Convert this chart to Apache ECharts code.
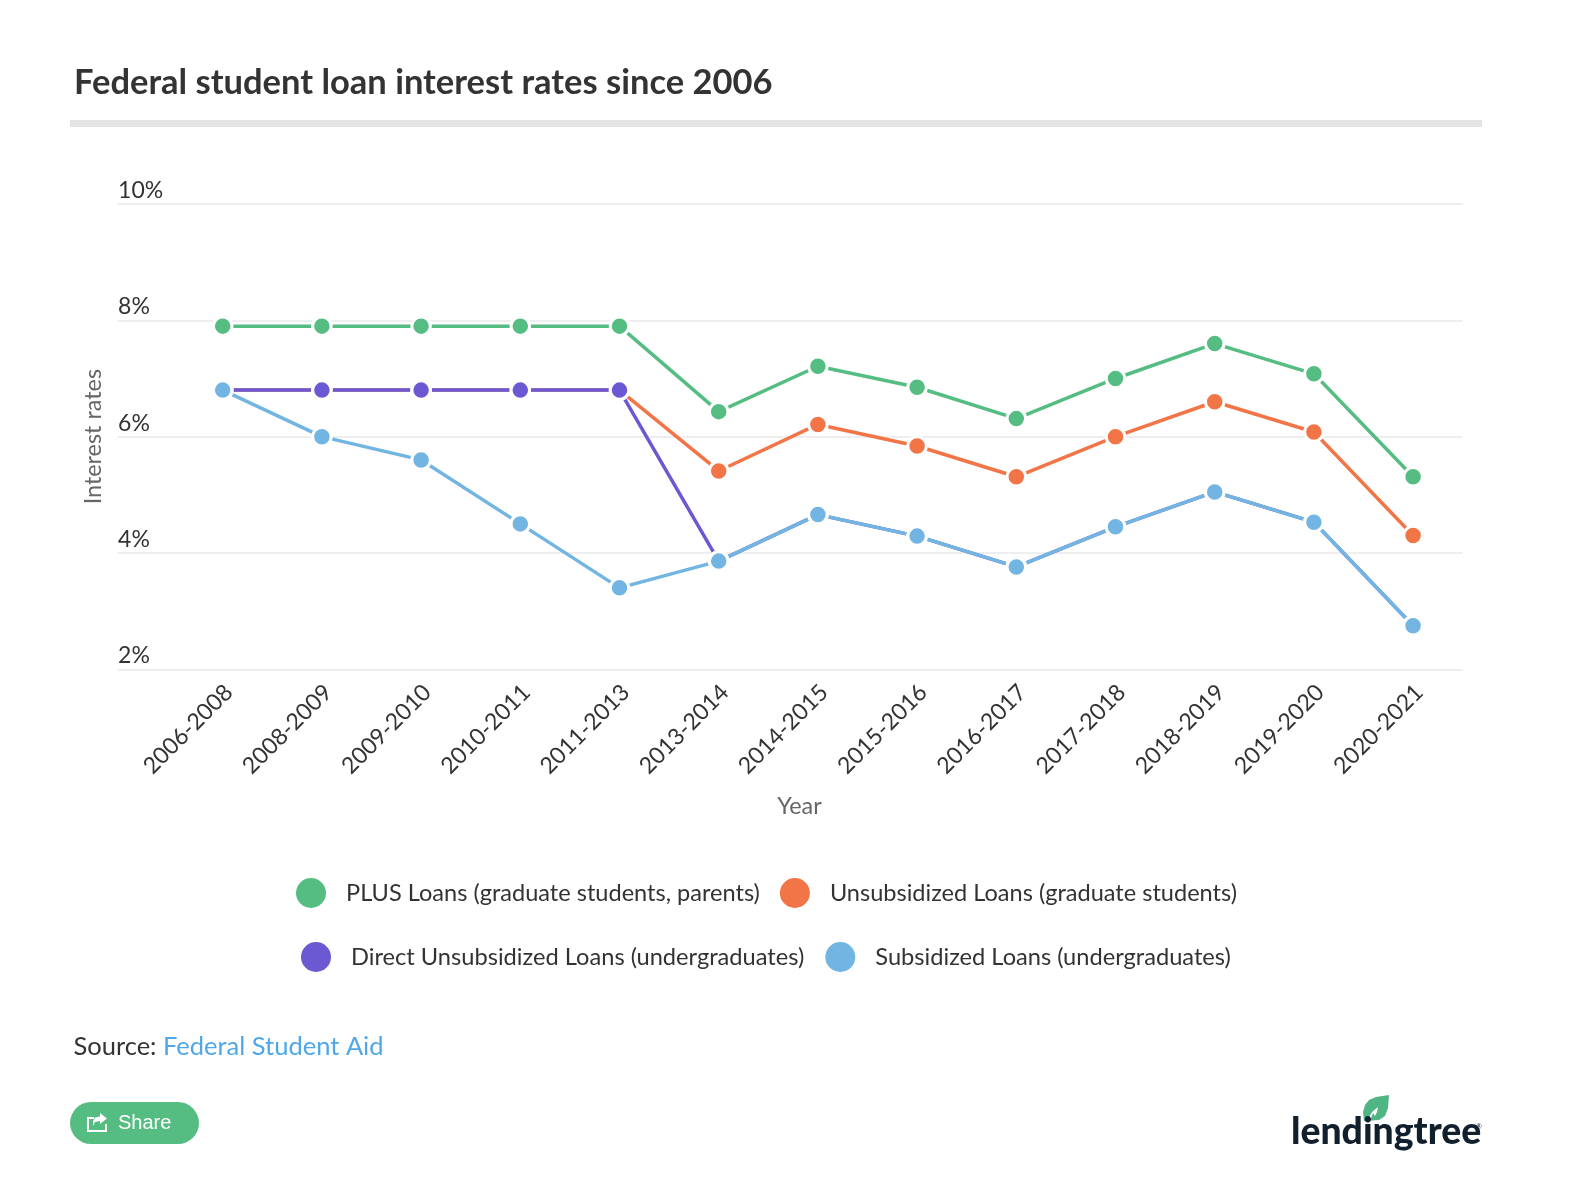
<!DOCTYPE html>
<html><head><meta charset="utf-8">
<style>html,body{margin:0;padding:0;background:#fff}#c{width:1594px;height:1204px}</style>
<script src="https://cdn.jsdelivr.net/npm/echarts@6/dist/echarts.min.js"></script>
</head><body><div id="c"></div>
<script>
const years = ['2006-2008','2008-2009','2009-2010','2010-2011','2011-2013','2013-2014','2014-2015','2015-2016','2016-2017','2017-2018','2018-2019','2019-2020','2020-2021'];
const plusLoans = [7.9,7.9,7.9,7.9,7.9,6.43,7.21,6.85,6.31,7.0,7.6,7.08,5.31];
const unsubGrad = [6.8,6.8,6.8,6.8,6.8,5.41,6.21,5.84,5.31,6.0,6.6,6.08,4.3];
const directUnsub = [6.8,6.8,6.8,6.8,6.8,3.86,4.66,4.29,3.76,4.45,5.05,4.53,2.75];
const subsidized = [6.8,6.0,5.6,4.5,3.4,3.86,4.66,4.29,3.76,4.45,5.05,4.53,2.75];
const names = ['PLUS Loans (graduate students, parents)','Unsubsidized Loans (graduate students)','Direct Unsubsidized Loans (undergraduates)','Subsidized Loans (undergraduates)'];
const colors = ['#56bd82','#f27547','#6b59d3','#72b5e3'];
const values = [plusLoans,unsubGrad,directUnsub,subsidized];
const F = 'Lato', TXT = '#333333';

const legendCommon = {icon:'circle',itemWidth:30,itemHeight:30,selectedMode:false,orient:'horizontal',padding:0,
  itemStyle:{borderWidth:0}};
const legendText = s => ({fontFamily:F,fontSize:s,color:TXT,padding:[0,0,0,15]});

const chart = echarts.init(document.getElementById('c'),null,{renderer:'canvas'});
chart.setOption({
  animation:false,
  backgroundColor:'#fff',
  title:{text:'Federal student loan interest rates since 2006',left:74,top:65,padding:0,
    textStyle:{fontFamily:F,fontWeight:'bold',fontSize:34.5,color:TXT}},
  grid:{left:173.1,right:1594-1462.7,top:204,bottom:1204-669.3,containLabel:false},
  legend:[
    Object.assign({},legendCommon,{data:names.slice(0,2),left:296,top:878,itemGap:20,textStyle:legendText(23.55)}),
    Object.assign({},legendCommon,{data:names.slice(2),left:301,top:942,itemGap:21,textStyle:legendText(23.65)})
  ],
  xAxis:{type:'category',data:years,boundaryGap:true,
    axisLine:{show:false},axisTick:{show:false},splitLine:{show:false},
    name:'Year',nameLocation:'middle',nameGap:126,
    nameTextStyle:{fontFamily:F,fontSize:23.4,color:'#666',padding:[0,37,0,0]},
    axisLabel:{rotate:45,fontFamily:F,fontSize:23,color:TXT,margin:13,interval:0,verticalAlign:'top',lineHeight:17.5}},
  yAxis:{type:'value',min:2,max:10,interval:2,
    axisLine:{show:false},
    axisTick:{show:true,length:55.4,lineStyle:{color:'#eeeeee',width:2}},
    splitLine:{show:true,lineStyle:{color:'#eeeeee',width:2}},
    name:'Interest rates',nameLocation:'middle',nameGap:68,
    nameTextStyle:{fontFamily:F,fontSize:23.4,color:'#666'},
    axisLabel:{fontFamily:F,fontSize:23,color:TXT,align:'left',verticalAlign:'bottom',margin:55,lineHeight:27,
      formatter:v=>v+'%'}},
  series:names.map((n,i)=>({
    name:n,type:'line',data:values[i],smooth:false,
    lineStyle:{color:colors[i],width:3.5},
    symbol:'circle',symbolSize:18.5,showSymbol:true,
    itemStyle:{color:colors[i],borderColor:'#fff',borderWidth:3},
    emphasis:{disabled:true}
  })),
  graphic:[
    {type:'rect',silent:true,shape:{x:70,y:120,width:1412,height:7},style:{fill:'#e4e4e4'}},
    {type:'text',silent:true,x:73.5,y:1047,style:{
      text:'{a|Source: }{b|Federal Student Aid}',verticalAlign:'middle',
      rich:{a:{fontFamily:F,fontSize:25.5,fill:TXT},b:{fontFamily:F,fontSize:25.5,fill:'#4ea7e8'}}}},
    {type:'rect',silent:true,shape:{x:70,y:1102,width:129,height:42,r:21},style:{fill:'#56bd82'}},
    {type:'polyline',silent:true,shape:{points:[[94,1118],[88,1118],[88,1131],[106,1131],[106,1124]]},
      style:{fill:'none',stroke:'#fff',lineWidth:2}},
    {type:'polygon',silent:true,shape:{points:[[100,1113],[107,1118.5],[100,1124],[100,1121],[95,1122],[93,1126],[93,1121],[95,1117.5],[100,1116.5]]},
      style:{fill:'#fff'}},
    {type:'text',silent:true,x:118,y:1123,style:{text:'Share',fontFamily:'Liberation Sans',fontSize:20,fill:'#fff',verticalAlign:'middle'}},
    {type:'polygon',silent:true,shape:{points:[[1389,1095],[1376,1097],[1369,1100],[1365,1105],[1363,1112],[1364,1121],[1379,1120],[1385,1116],[1388,1108]]},
      style:{fill:'#4fb583'}},
    {type:'polygon',silent:true,shape:{points:[[1367,1121],[1372,1112],[1378,1107],[1377,1112],[1375,1116],[1373,1113],[1370,1121]]},
      style:{fill:'#fff'}},
    {type:'text',silent:true,x:1291,y:1132,style:{text:'lendingtree',fontFamily:F,fontWeight:900,fontSize:37.3,fill:'#12202e',verticalAlign:'middle'}},
    {type:'text',silent:true,x:1476,y:1127,style:{text:'®',fontFamily:F,fontSize:7,fill:'#12202e',verticalAlign:'middle'}},
  ]
});
</script></body></html>
